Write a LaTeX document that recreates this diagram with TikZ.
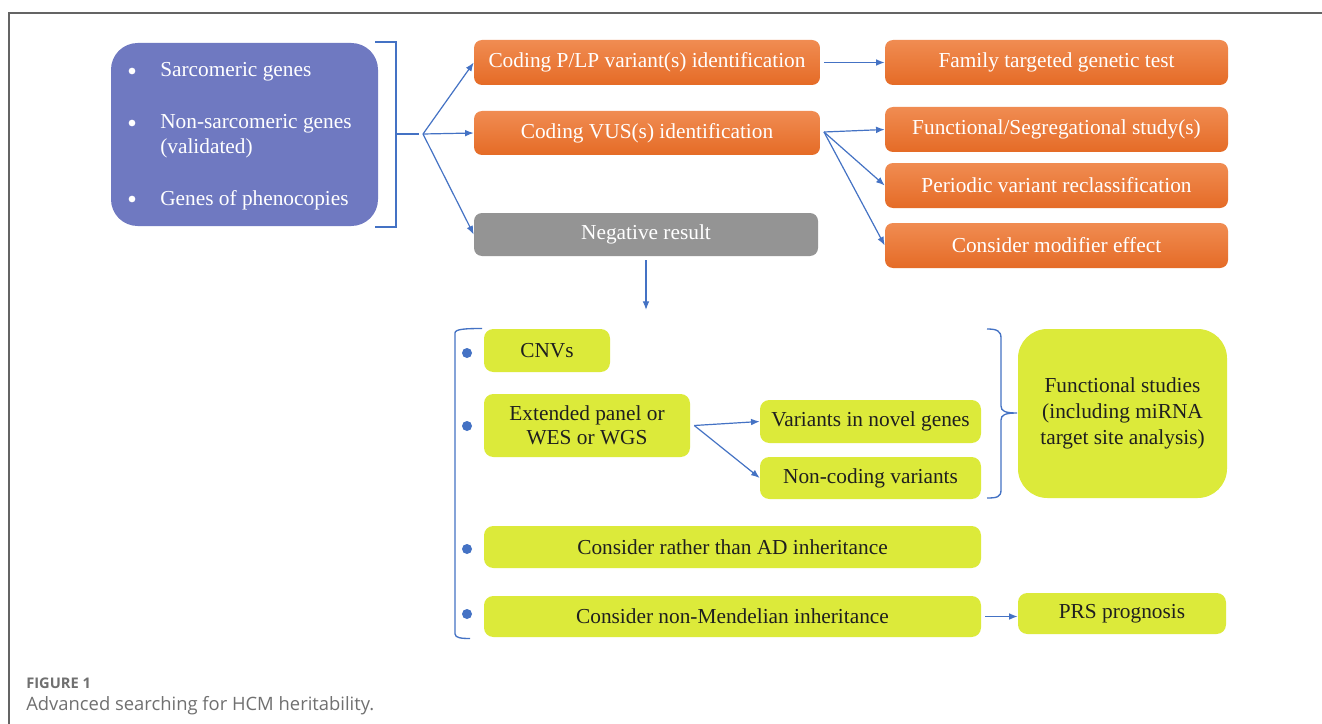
\documentclass[tikz,border=0pt]{standalone}
\usepackage{fontspec}
\setmainfont{Liberation Serif}
\newfontfamily\capfont{Open Sans}
\usetikzlibrary{arrows.meta}
\definecolor{orangeT}{RGB}{240,140,82}
\definecolor{orangeB}{RGB}{229,107,38}
\definecolor{purp}{RGB}{111,121,193}
\definecolor{grayb}{RGB}{148,148,148}
\definecolor{ygreen}{RGB}{220,234,58}
\definecolor{lblue}{RGB}{68,114,196}
\definecolor{capgray}{RGB}{112,112,112}
\definecolor{framegray}{RGB}{100,100,100}
\begin{document}
\begin{tikzpicture}[x=0.75pt,y=-0.75pt,
 boxtext/.style={font=\fontsize{16}{19}\selectfont, inner sep=0pt, align=center},
 obox/.style={boxtext, rounded corners=6pt, top color=orangeT, bottom color=orangeB, text=white},
 gbox/.style={boxtext, rounded corners=6pt, fill=grayb, text=white},
 ybox/.style={boxtext, rounded corners=7pt, fill=ygreen, text=black!88},
 conn/.style={draw=lblue, line width=0.9pt, -{Latex[length=6.5pt,width=5pt]}},
 brk/.style={draw=lblue, line width=1pt},
 dotb/.style={circle, fill=lblue, inner sep=0pt, minimum size=7.5pt},
 ptext/.style={font=\fontsize{16}{18}\selectfont, text=white, anchor=west, inner sep=0pt, align=left},
 pbul/.style={circle, fill=white, inner sep=0pt, minimum size=5pt}
]
\useasboundingbox (0,0) rectangle (1322,724);
\fill[white] (0,0) rectangle (1322,724);
% frame
\draw[framegray, line width=1.1pt] (1322,13) -- (9,13) -- (9,724);

% purple box
\node[fill=purp, rounded corners=20pt, minimum width=267*0.75pt, minimum height=183*0.75pt, inner sep=0pt] (genes) at (244.5,134.5) {};
\node[pbul] (b1) at (132,71) {};
\node[pbul] (b2) at (132,123) {};
\node[pbul] (b3) at (132,199) {};
\node[ptext] (t1) at (160,72) {Sarcomeric genes};
\node[ptext] (t2) at (160,124) {Non-sarcomeric genes};
\node[ptext] (t2b) at (160,148) {(validated)};
\node[ptext] (t3) at (160,200) {Genes of phenocopies};

% bracket
\draw[brk] (375,42) -- (396,42) -- (396,227) -- (375,227);
\draw[brk] (396,134) -- (419,134);
\coordinate (fan) at (423,134);

% orange boxes
\node[obox, minimum width=346*0.75pt, minimum height=45*0.75pt] (plp) at (647,62.5) {Coding P/LP variant(s) identification};
\node[obox, minimum width=346*0.75pt, minimum height=44*0.75pt] (vus) at (647,133) {Coding VUS(s) identification};
\node[gbox, minimum width=344*0.75pt, minimum height=43*0.75pt] (neg) at (646,234.5) {Negative result};
\node[obox, minimum width=343*0.75pt, minimum height=45*0.75pt] (fam) at (1056.5,62.5) {Family targeted genetic test};
\node[obox, minimum width=343*0.75pt, minimum height=45*0.75pt] (fss) at (1056.5,129.5) {Functional/Segregational study(s)};
\node[obox, minimum width=343*0.75pt, minimum height=45*0.75pt] (per) at (1056.5,185.5) {Periodic variant reclassification};
\node[obox, minimum width=343*0.75pt, minimum height=45*0.75pt] (mod) at (1056.5,245.5) {Consider modifier effect};

\draw[conn] (fan) -- (plp.west);
\draw[conn] (fan) -- (vus.west);
\draw[conn] (fan) -- (neg.west);
\draw[conn] ([xshift=3pt]plp.east) -- (fam.west);
\coordinate (vo) at (824,132);
\draw[conn] (vo) -- (fss.west);
\draw[conn] (vo) -- (per.west);
\draw[conn] (vo) -- (mod.west);
\coordinate (down) at (646,310);
\draw[conn] ([yshift=-3pt]neg.south) -- (down);

% yellow boxes
\node[ybox, minimum width=126*0.75pt, minimum height=43*0.75pt] (cnv) at (547,350.5) {CNVs};
\node[ybox, minimum width=206*0.75pt, minimum height=63*0.75pt, font=\fontsize{16}{18}\selectfont] (ext) at (587,425.5) {Extended panel or\\WES or WGS};
\node[ybox, minimum width=221*0.75pt, minimum height=43*0.75pt] (vng) at (870.5,421.5) {Variants in novel genes};
\node[ybox, minimum width=221*0.75pt, minimum height=42*0.75pt] (ncv) at (870.5,478) {Non-coding variants};
\node[ybox, rounded corners=22pt, minimum width=209*0.75pt, minimum height=169*0.75pt, font=\fontsize{16}{19.5}\selectfont] (fst) at (1122.5,413.5) {Functional studies\\(including miRNA\\target site analysis)};
\node[ybox, minimum width=497*0.75pt, minimum height=42*0.75pt] (rad) at (732.5,547) {Consider rather than AD inheritance};
\node[ybox, minimum width=497*0.75pt, minimum height=41*0.75pt] (nmi) at (732.5,616.5) {Consider non-Mendelian inheritance};
\node[ybox, minimum width=208*0.75pt, minimum height=41*0.75pt] (prs) at (1122,613.5) {PRS prognosis};

\draw[conn] ([xshift=3pt]ext.east) -- (vng.west);
\draw[conn] ([xshift=3pt]ext.east) -- (ncv.west);
\draw[conn] ([xshift=3pt]nmi.east) -- (nmi.east -| prs.west);

% dots
\node[dotb] (d1) at (467,353) {};
\node[dotb] (d2) at (467,426) {};
\node[dotb] (d3) at (467,549) {};
\node[dotb] (d4) at (467,614) {};

% left bracket
\draw[brk] (482,328.5) .. controls (466,328.5) and (455,329) .. (455,333) -- (455,634) .. controls (455,638) and (462,638.5) .. (470,638.5);

% right brace
\coordinate (tip) at (1017,413);
\draw[brk] (987,329) .. controls (997,329) and (1001,331) .. (1001,338) -- (1001,406) .. controls (1001,411) and (1005,413) .. (tip)
  .. controls (1005,413) and (1001,415) .. (1001,420) -- (1001,490) .. controls (1001,497) and (997,498) .. (987,498);

% caption
\node[anchor=west, inner sep=0pt, text=capgray, font=\capfont\bfseries\fontsize{11}{13}\selectfont] (fig) at (26,683) {FIGURE 1};
\node[anchor=west, inner sep=0pt, text=capgray, font=\capfont\fontsize{13.8}{16}\selectfont] (cap) at (26,706) {Advanced searching for HCM heritability.};
\end{tikzpicture}
\end{document}
